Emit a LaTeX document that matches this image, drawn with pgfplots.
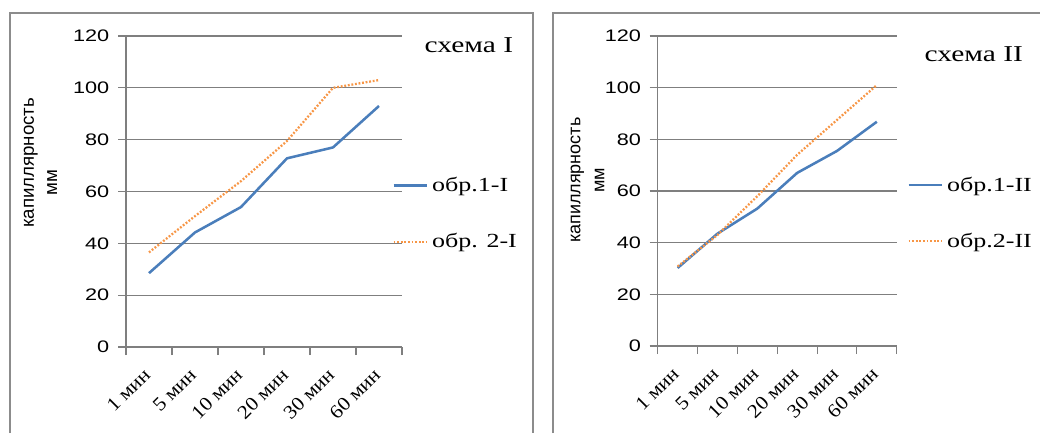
\documentclass[border=0pt]{standalone}
\usepackage{fontspec}
\setmainfont{Liberation Serif}
\newfontfamily\tnr[FakeStretch=1.3]{Liberation Serif}
\newfontfamily\tnrx[FakeStretch=1.1]{Liberation Serif}
\newfontfamily\ars[FakeStretch=1.3]{Liberation Sans}
\newfontfamily\arsy{Liberation Sans}
\usepackage{pgfplots}
\pgfplotsset{compat=1.18}

\definecolor{sblue}{HTML}{4A7EBB}
\definecolor{sorange}{HTML}{F79646}
\definecolor{gridc}{HTML}{7F7F7F}
\definecolor{framec}{HTML}{8C8C8C}

\pgfplotsset{
  panel/.style={
    scale only axis,
    xmin=-0.5, xmax=5.5, ymin=0, ymax=120,
    xtick={-0.5,0.5,1.5,2.5,3.5,4.5,5.5},
    xticklabels={,,,,,,},
    extra x ticks={0,1,2,3,4,5},
    extra x tick labels={1 мин,5 мин,10 мин,20 мин,30 мин,60 мин},
    extra x tick style={major tick length=0pt, grid=none},
    ytick={0,20,...,120},
    axis x line=bottom, axis y line=left,
    axis line style={-, gridc, line width=0.8pt},
    tick style={gridc, line width=0.8pt},
    tick align=outside,
    major tick length=6pt,
    ymajorgrids,
    grid style={gridc, line width=0.8pt},
    /pgf/number format/assume math mode=true,
    yticklabel style={font=\ars\fontsize{12.5}{13}\selectfont, xshift=-3pt},
    xticklabel style={font=\tnrx\fontsize{14.5}{16}\selectfont, xshift=-5pt, yshift=-10pt, rotate=45, anchor=north east},
    clip=false,
    legend cell align=left,
    legend image code/.code={\draw[#1] (0pt,0pt) -- (25pt,0pt);},
    legend style={draw=none, fill=none, inner sep=0pt, row sep=24pt,
      font=\tnr\fontsize{15}{17}\selectfont,
      nodes={inner sep=3pt}},
    title style={font=\tnr\fontsize{17}{20}\selectfont, anchor=west},
  },
  s1/.style={sblue, line width=1.9pt},
  s2/.style={sorange, line width=1.7pt, dash pattern=on 1.4pt off 1.3pt},
}

\begin{document}
\begin{tikzpicture}
\useasboundingbox (0pt,0pt) rectangle (780pt,324.75pt);

% left panel
\begin{axis}[panel,
  at={(94.5pt,64.5pt)}, anchor=south west,
  width=207pt, height=233.25pt,
  title={схема I}, title style={at={(axis description cs:1.065,0.945)}},
  ylabel={капиллярность\\мм\hspace*{30pt}},
  ylabel style={at={(axis description cs:-0.31,0.592)}, anchor=center, align=center,
    font=\arsy\fontsize{14}{17.5}\selectfont},
  legend style={at={(axis description cs:0.964,0.429)}, anchor=west},
]
\addplot[s1] coordinates {(0,28.5) (1,44.2) (2,54) (3,72.8) (4,77) (5,93)};
\addlegendentry{обр.1-I}
\addplot[s2] coordinates {(0,36.5) (1,50.5) (2,64) (3,79.5) (4,100) (5,103)};
\addlegendentry{обр. 2-I}
\end{axis}

% right panel
\begin{axis}[panel,
  at={(493.3pt,65.25pt)}, anchor=south west,
  width=179.25pt, height=232.5pt,
  title={схема II}, title style={at={(axis description cs:1.097,0.915)}},
  ylabel={капиллярность\\мм},
  ylabel style={at={(axis description cs:-0.294,0.535)}, anchor=center, align=center,
    font=\arsy\fontsize{13.5}{18}\selectfont},
  legend style={at={(axis description cs:1.043,0.429)}, anchor=west},
]
\addplot[s1] coordinates {(0,30.2) (1,43.5) (2,53.2) (3,67) (4,75.5) (5,86.8)};
\addlegendentry{обр.1-II}
\addplot[s2] coordinates {(0,30.8) (1,43) (2,58) (3,74) (4,87.5) (5,101)};
\addlegendentry{обр.2-II}
\end{axis}

% panel frames
\draw[framec, line width=0.9pt] (7.5pt,0pt) -- (7.5pt,315pt) -- (399.75pt,315pt) -- (399.75pt,0pt);
\draw[framec, line width=0.9pt] (414.75pt,0pt) -- (414.75pt,315pt) -- (780pt,315pt);
\end{tikzpicture}
\end{document}
